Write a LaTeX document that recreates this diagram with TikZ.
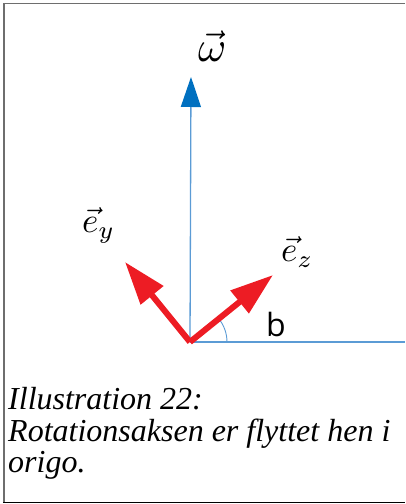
\documentclass[tikz,border=0pt]{standalone}
\usepackage{fontspec}
\setmainfont{Liberation Serif}
\newfontfamily\bfont{Open Sans}
\usetikzlibrary{arrows.meta}
\definecolor{axisblue}{RGB}{91,155,213}
\definecolor{headblue}{RGB}{0,112,192}
\definecolor{vecred}{RGB}{237,28,36}
\definecolor{framegray}{RGB}{110,110,110}
\begin{document}
\begin{tikzpicture}[x=1pt,y=1pt,
  axis/.style={draw=axisblue,line width=1.3pt},
  redvec/.style={draw=vecred,line width=6pt,-{Triangle[length=43pt,width=28pt]}},
  lab/.style={inner sep=0pt,anchor=base west},
  captext/.style={inner sep=0pt,anchor=base west,font=\fontsize{32}{32}\selectfont\itshape}]
\useasboundingbox (0,0) rectangle (405,504);
% frame
\draw[framegray,line width=1.5pt] (405,500.5) -- (4,500.5) -- (4,1.5);
\draw[black,line width=1.5pt] (3.25,1.5) -- (405,1.5);
% axes
\coordinate (O) at (190,162);
\coordinate (W) at (191,427);
\coordinate (R) at (405,162);
\coordinate (EY) at (125,242);
\coordinate (EZ) at (273,229);
\draw[axis,-{Triangle[length=30pt,width=20pt,color=headblue]}] (O) -- (W);
\draw[axis] (O) -- (R);
\draw[axisblue,line width=0.9pt] (O) ++(37,0) arc[start angle=0,end angle=39.7,radius=37];
\draw[redvec] (O) -- (EY);
\draw[redvec] (O) -- (EZ);
% labels
\node[lab] (wl) at (198,442) {\scalebox{4.3}{$\vec{\omega}$}};
\node[lab] (eyl) at (82,271) {\scalebox{3.5}{$\vec{e}_y$}};
\node[lab] (ezl) at (281,242) {\scalebox{3.5}{$\vec{e}_z$}};
\node[lab,font=\bfont\fontsize{32}{32}\selectfont] (bl) at (266,167) {b};
% caption
\node[captext] (c1) at (8,94) {Illustration 22:};
\node[captext] (c2) at (8,62.5) {Rotationsaksen er flyttet hen i};
\node[captext] (c3) at (8,31) {origo.};
\end{tikzpicture}
\end{document}
